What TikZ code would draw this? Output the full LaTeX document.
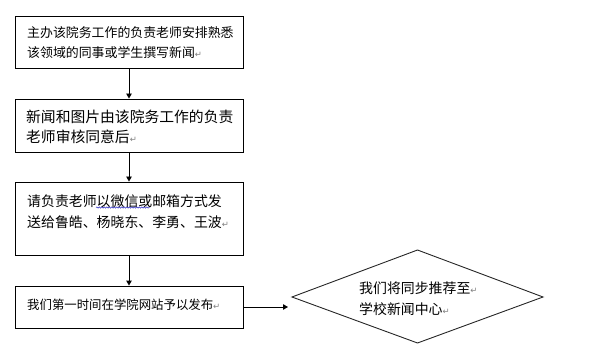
\documentclass[tikz,border=0pt]{standalone}
\usepackage{fontspec}
\setmainfont{Noto Sans CJK SC}
\newfontfamily\symfont{DejaVu Sans}
\usetikzlibrary{arrows.meta,decorations.pathmorphing}
\tikzset{
  box/.style={draw=black,line width=0.9pt,inner sep=0pt},
  txt/.style={anchor=west,inner sep=0pt,text=black},
  conn/.style={draw=black,line width=0.9pt,-{Triangle[length=5pt,width=5.5pt]}},
}
\newcommand{\retmark}{{\symfont\color{gray}\fontsize{8.5}{8.5}\selectfont ↵}}
\begin{document}
\begin{tikzpicture}[x=1pt,y=-1pt]
\useasboundingbox (0,0) rectangle (600,350);
% boxes
\node[box,minimum width=228pt,minimum height=52pt] (b1) at (129,42) {};
\node[box,minimum width=228pt,minimum height=53pt] (b2) at (129,125.5) {};
\node[box,minimum width=228pt,minimum height=73pt] (b3) at (129,218.5) {};
\node[box,minimum width=228pt,minimum height=42pt] (b4) at (129,307) {};
\draw[line width=0.9pt,draw=black!85] (292,297) coordinate (dl) -- (417.5,250) coordinate (dt) -- (543,297) coordinate (dr) -- (417.5,343) coordinate (db) -- cycle;
\coordinate (dcen) at (417.5,297);
% texts
\node[txt,font=\fontsize{12.9}{14}\selectfont] (t1a) at (27,33) {主办该院务工作的负责老师安排熟悉};
\node[txt,font=\fontsize{12.9}{14}\selectfont] (t1b) at (27,53) {该领域的同事或学生撰写新闻\retmark};
\node[txt,font=\fontsize{14.8}{16}\selectfont] (t2a) at (26,117) {新闻和图片由该院务工作的负责};
\node[txt,font=\fontsize{14.8}{16}\selectfont] (t2b) at (26,137) {老师审核同意后\retmark};
\node[txt,font=\fontsize{13.9}{15}\selectfont] (t3a) at (27,201) {请负责老师以微信或邮箱方式发};
\node[txt,font=\fontsize{13.9}{15}\selectfont] (t3b) at (27,222) {送给鲁皓、杨晓东、李勇、王波\retmark};
\node[txt,font=\fontsize{12.4}{14}\selectfont] (t4a) at (27,305) {我们第一时间在学院网站予以发布\retmark};
\node[txt,font=\fontsize{13.9}{15}\selectfont] (t5a) at (359,288) {我们将同步推荐至\retmark};
\node[txt,font=\fontsize{13.9}{15}\selectfont] (t5b) at (359,309) {学校新闻中心\retmark};
% spell-check wavy line
\draw[blue!70!black,line width=0.4pt,decorate,decoration={snake,amplitude=0.7pt,segment length=2.5pt}] (96,207.5) -- (150,207.5);
% connectors
\draw[conn] (b1.south) -- (b2.north);
\draw[conn] (b2.south) -- (b3.north);
\draw[conn] (b3.south) -- (b4.north);
\coordinate (a4end) at (288,307);
\draw[conn] (b4.east) -- (a4end);
\end{tikzpicture}
\end{document}
